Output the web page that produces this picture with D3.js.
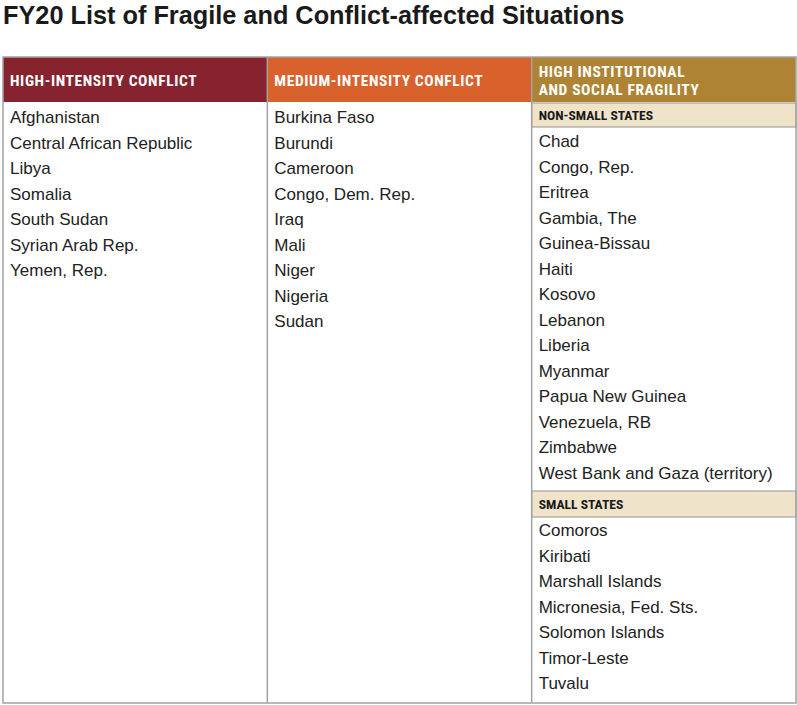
<!DOCTYPE html>
<html>
<head>
<meta charset="utf-8">
<script src="https://cdn.jsdelivr.net/npm/d3@7"></script>
<style>
  body { margin: 0; background: #fff; }
  text { font-family: "Liberation Sans", Arial, Helvetica, sans-serif; }
  .hdr { font-family: "Liberation Sans Narrow", "Roboto Condensed", "Liberation Sans", sans-serif; font-weight: bold; font-stretch: condensed; }
</style>
</head>
<body>
<script>
var title = 'FY20 List of Fragile and Conflict-affected Situations';
var columns = ['high', 'medium', 'fragility'];
var headers = [['HIGH-INTENSITY CONFLICT'], ['MEDIUM-INTENSITY CONFLICT'], ['HIGH INSTITUTIONAL', 'AND SOCIAL FRAGILITY']];
var headerColors = ['#86232e', '#d8612c', '#ae8434'];
var highIntensity = ['Afghanistan', 'Central African Republic', 'Libya', 'Somalia', 'South Sudan', 'Syrian Arab Rep.', 'Yemen, Rep.'];
var mediumIntensity = ['Burkina Faso', 'Burundi', 'Cameroon', 'Congo, Dem. Rep.', 'Iraq', 'Mali', 'Niger', 'Nigeria', 'Sudan'];
var nonSmallStates = ['Chad', 'Congo, Rep.', 'Eritrea', 'Gambia, The', 'Guinea-Bissau', 'Haiti', 'Kosovo', 'Lebanon', 'Liberia', 'Myanmar', 'Papua New Guinea', 'Venezuela, RB', 'Zimbabwe', 'West Bank and Gaza (territory)'];
var smallStates = ['Comoros', 'Kiribati', 'Marshall Islands', 'Micronesia, Fed. Sts.', 'Solomon Islands', 'Timor-Leste', 'Tuvalu'];
var subHeaders = ['NON-SMALL STATES', 'SMALL STATES'];

var screen = { width: 797, height: 705 };
var table = { left: 3, right: 796, top: 57, bottom: 703, headerH: 45 };
var pad = 7;

var svg = d3.select('body').append('svg')
  .attr('width', screen.width)
  .attr('height', screen.height);

svg.append('text')
  .attr('x', 3).attr('y', 24)
  .attr('font-size', 25.3).attr('font-weight', 'bold')
  .attr('fill', '#1a1a1a')
  .text(title);

var xScale = d3.scaleBand()
  .domain(columns)
  .range([table.left, table.right]);

// row index -> vertical centre of text
var rowY = d3.scaleLinear()
  .domain([0, 1])
  .range([117, 142.5]);

// header bands
var hdr = svg.append('g').selectAll('g')
  .data(columns)
  .enter().append('g');

hdr.append('rect')
  .attr('x', function(d){ return xScale(d); })
  .attr('y', table.top)
  .attr('width', xScale.bandwidth())
  .attr('height', table.headerH)
  .attr('fill', function(d, i){ return headerColors[i]; });

hdr.each(function(d, i){
  var lines = headers[i];
  var g = d3.select(this);
  g.selectAll('text')
    .data(lines)
    .enter().append('text')
    .attr('class', 'hdr')
    .attr('x', xScale(d) + pad)
    .attr('y', function(l, j){
      var mid = table.top + table.headerH / 2 + 0.5;
      return mid + (j - (lines.length - 1) / 2) * 18;
    })
    .attr('dy', '0.36em')
    .attr('font-size', 15.5)
    .attr('letter-spacing', 0.6)
    .attr('fill', '#fff')
    .text(function(l){ return l; });
});

// sub headers in third column
var col3 = xScale('fragility');
var subBoxes = [{ label: subHeaders[0], y0: 103, y1: 127 }, { label: subHeaders[1], y0: 491, y1: 517 }];
var sub = svg.append('g').selectAll('g')
  .data(subBoxes)
  .enter().append('g');

sub.append('rect')
  .attr('x', col3).attr('y', function(d){ return d.y0; })
  .attr('width', xScale.bandwidth())
  .attr('height', function(d){ return d.y1 - d.y0; })
  .attr('fill', '#efe3c9')
  .attr('stroke', '#a8a29a')
  .attr('stroke-width', 1.2);

sub.append('text')
  .attr('class', 'hdr')
  .attr('x', col3 + pad)
  .attr('y', function(d){ return (d.y0 + d.y1) / 2; })
  .attr('dy', '0.36em')
  .attr('font-size', 13.6)
  .attr('fill', '#1a1a1a')
  .text(function(d){ return d.label; });

// country lists
var lists = [
  { col: 'high', items: highIntensity, start: 0 },
  { col: 'medium', items: mediumIntensity, start: 0 },
  { col: 'fragility', items: nonSmallStates, start: 0.94 },
  { col: 'fragility', items: smallStates, start: 16.2 }
];

lists.forEach(function(list){
  svg.append('g').selectAll('text')
    .data(list.items)
    .enter().append('text')
    .attr('x', xScale(list.col) + pad)
    .attr('y', function(d, i){ return rowY(list.start + i); })
    .attr('dy', '0.36em')
    .attr('font-size', 17)
    .attr('fill', '#222')
    .text(function(d){ return d; });
});

// borders
var lines = svg.append('g')
  .attr('stroke', '#a3a3a3')
  .attr('stroke-width', 1.5)
  .attr('fill', 'none');

lines.append('rect')
  .attr('x', table.left).attr('y', table.top)
  .attr('width', table.right - table.left)
  .attr('height', table.bottom - table.top);

lines.selectAll('line.div')
  .data(columns.slice(1))
  .enter().append('line')
  .attr('x1', function(d){ return xScale(d); })
  .attr('x2', function(d){ return xScale(d); })
  .attr('y1', table.top)
  .attr('y2', table.bottom);
</script>
</body>
</html>
